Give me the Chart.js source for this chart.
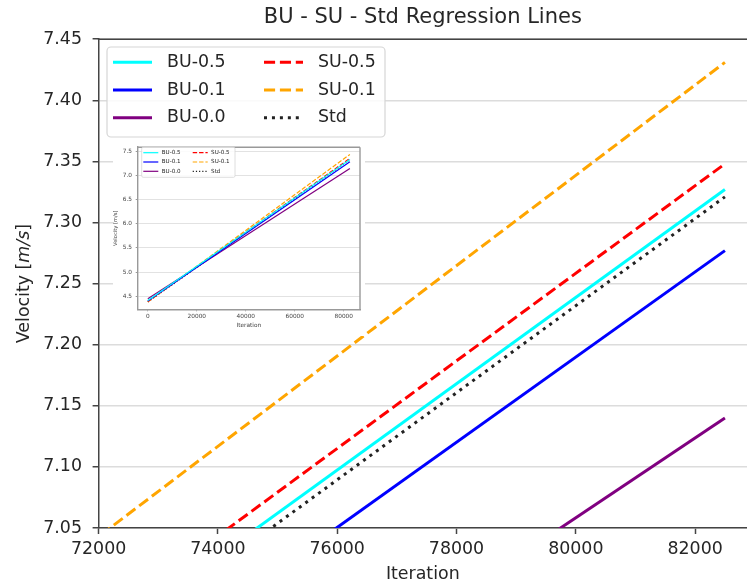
<!DOCTYPE html>
<html>
<head>
<meta charset="utf-8">
<title>BU - SU - Std Regression Lines</title>
<script src="https://cdn.jsdelivr.net/npm/chart.js@4.4.1/dist/chart.umd.min.js"></script>
<style>
  body { margin: 0; background: #fff; }
  #wrap { position: relative; width: 747px; height: 586px; overflow: hidden; }
  #main { position: absolute; left: 0; top: 0; }
  #inset { position: absolute; left: 113px; top: 140px; background: #fff; filter: blur(0.4px); }
</style>
</head>
<body>
<div id="wrap">
  <canvas id="main" width="747" height="586"></canvas>
  <canvas id="inset" width="252" height="196"></canvas>
</div>
<script>
// fitted lines, value at first and last iteration
var iterations = [0, 82500];
var seriesNames = ['BU-0.5', 'BU-0.1', 'BU-0.0', 'SU-0.5', 'SU-0.1', 'Std'];
var bu05 = [4.413, 7.327];
var bu01 = [4.402, 7.277];
var bu00 = [4.446, 7.140];
var su05 = [4.392, 7.348];
var su01 = [4.382, 7.431];
var stdFit = [4.382, 7.321];

var xTicks = [72000, 74000, 76000, 78000, 80000, 82000];
var yTicks = [7.05, 7.10, 7.15, 7.20, 7.25, 7.30, 7.35, 7.40, 7.45];
var insetXTicks = [0, 20000, 40000, 60000, 80000];
var insetYTicks = [4.5, 5.0, 5.5, 6.0, 6.5, 7.0, 7.5];

var FONT = '"DejaVu Sans", sans-serif';
var TEXT = '#262626';

// colour + line style per series ('solid' | 'dashed' | 'dotted')
var looks = [
  ['#00ffff', 'solid'],
  ['#0000ff', 'solid'],
  ['#800080', 'solid'],
  ['#ff0000', 'dashed'],
  ['#ffa500', 'dashed'],
  ['#222222', 'dotted']
];

function dashFor(kind, lw) {
  if (kind == 'dashed') return [3.7 * lw, 1.6 * lw];
  if (kind == 'dotted') return [1 * lw, 1.65 * lw];
  return [];
}

function makeSets(lw) {
  var all = [bu05, bu01, bu00, su05, su01, stdFit];
  return all.map(function (vals, i) {
    return {
      label: seriesNames[i],
      data: iterations.map(function (it, j) { return { x: it, y: vals[j] }; }),
      borderColor: looks[i][0],
      borderWidth: lw,
      borderDash: dashFor(looks[i][1], lw),
      pointRadius: 0,
      fill: false,
      clip: 0
    };
  });
}

// top/right spines, boxed two-column legend, mixed-font y label
var decor = {
  id: 'decor',
  afterDatasetsDraw: function (chart, args, o) {
    var ctx = chart.ctx, a = chart.chartArea;
    ctx.save();
    ctx.strokeStyle = o.spineColor;
    ctx.lineWidth = o.spineWidth;
    ctx.beginPath();
    ctx.moveTo(a.left - o.spineWidth / 2, a.top);
    ctx.lineTo(a.right, a.top);
    if (o.rightSpine) {
      ctx.moveTo(a.right, a.top);
      ctx.lineTo(a.right, a.bottom);
    }
    ctx.stroke();

    var b = o.box;
    ctx.beginPath();
    ctx.roundRect(b.x, b.y, b.w, b.h, b.r);
    ctx.fillStyle = 'rgba(255,255,255,0.85)';
    ctx.fill();
    ctx.strokeStyle = '#d6d6d6';
    ctx.lineWidth = b.lw;
    ctx.stroke();

    ctx.font = o.fontSize + 'px ' + FONT;
    ctx.textBaseline = 'middle';
    ctx.textAlign = 'left';
    chart.data.datasets.forEach(function (ds, i) {
      var x0 = o.cols[Math.floor(i / 3)];
      var y = o.rows[i % 3];
      ctx.beginPath();
      ctx.setLineDash(ds.borderDash);
      ctx.strokeStyle = ds.borderColor;
      ctx.lineWidth = ds.borderWidth;
      ctx.moveTo(x0, y);
      ctx.lineTo(x0 + o.handle, y);
      ctx.stroke();
      ctx.setLineDash([]);
      ctx.fillStyle = TEXT;
      ctx.fillText(ds.label, x0 + o.handle + o.gap, y);
    });

    if (o.yLabel) {
      var parts = [['Velocity [', ''], ['m/s', 'italic '], [']', '']];
      var widths = parts.map(function (p) {
        ctx.font = p[1] + o.yLabel.size + 'px ' + FONT;
        return ctx.measureText(p[0]).width;
      });
      var total = widths.reduce(function (s, w) { return s + w; }, 0);
      ctx.translate(o.yLabel.x, (a.top + a.bottom) / 2);
      ctx.rotate(-Math.PI / 2);
      var cx = -total / 2;
      parts.forEach(function (p, i) {
        ctx.font = p[1] + o.yLabel.size + 'px ' + FONT;
        ctx.fillText(p[0], cx, 0);
        cx += widths[i];
      });
    }
    ctx.restore();
  }
};

function fixTicks(list) {
  return function (scale) {
    scale.ticks = list.map(function (v) { return { value: v }; });
  };
}

var main = new Chart(document.getElementById('main'), {
  type: 'line',
  data: { datasets: makeSets(3) },
  options: {
    responsive: false,
    animation: false,
    events: [],
    layout: { padding: 0 },
    plugins: {
      legend: { display: false },
      tooltip: { enabled: false },
      title: {
        display: true,
        fullSize: false,
        text: 'BU - SU - Std Regression Lines',
        color: TEXT,
        font: { family: FONT, size: 21, weight: 'normal' },
        padding: { top: 5, bottom: 9 }
      },
      decor: {
        spineColor: '#444', spineWidth: 1.5, rightSpine: false,
        box: { x: 107, y: 47, w: 278, h: 90, r: 4, lw: 1.2 },
        cols: [113, 264], rows: [62.3, 90, 117.7],
        handle: 39, gap: 15, fontSize: 17.4,
        yLabel: { x: 24, size: 17.4 }
      }
    },
    scales: {
      x: {
        type: 'linear',
        min: 72000,
        max: 82870,
        afterBuildTicks: fixTicks(xTicks),
        afterFit: function (s) { s.height = 58; },
        ticks: {
          callback: function (v) { return String(v); },
          color: TEXT, font: { family: FONT, size: 17.4 },
          padding: 5.5, maxRotation: 0, autoSkip: false
        },
        grid: { drawOnChartArea: false, drawTicks: true, tickLength: 6, tickColor: '#444', tickWidth: 1.5 },
        border: { color: '#444', width: 1.5 },
        title: {
          display: true, text: 'Iteration', color: TEXT,
          font: { family: FONT, size: 17.4 }, padding: { top: 0, bottom: 1.5 }
        }
      },
      y: {
        type: 'linear',
        min: 7.05,
        max: 7.45,
        afterBuildTicks: fixTicks(yTicks),
        afterFit: function (s) { s.width = 98.6; },
        ticks: {
          callback: function (v) { return v.toFixed(2); },
          color: TEXT, font: { family: FONT, size: 17.4 }, padding: 10.6
        },
        grid: { color: '#dcdcdc', lineWidth: 1.5, tickLength: 6, tickColor: '#444', tickWidth: 1.5 },
        border: { color: '#444', width: 1.5 }
      }
    }
  },
  plugins: [decor]
});

// small overview of the full run
var inset = new Chart(document.getElementById('inset'), {
  type: 'line',
  data: { datasets: makeSets(1.2) },
  options: {
    responsive: false,
    animation: false,
    events: [],
    layout: { padding: { top: 4, right: 5, left: 0, bottom: 0 } },
    plugins: {
      legend: { display: false },
      tooltip: { enabled: false },
      decor: {
        spineColor: '#999', spineWidth: 1.4, rightSpine: true,
        box: { x: 28.7, y: 7.3, w: 93.3, h: 30, r: 1.5, lw: 0.8 },
        cols: [30.3, 79.7], rows: [12.7, 22, 31.3],
        handle: 15, gap: 3.4, fontSize: 5.6,
        yLabel: null
      }
    },
    scales: {
      x: {
        type: 'linear',
        min: -4125,
        max: 86625,
        afterBuildTicks: fixTicks(insetXTicks),
        afterFit: function (s) { s.height = 26.7; },
        ticks: {
          callback: function (v) { return String(v); },
          color: '#444', font: { family: FONT, size: 5.8 },
          padding: 1.8, maxRotation: 0, autoSkip: false
        },
        grid: { drawOnChartArea: false, drawTicks: true, tickLength: 2, tickColor: '#999' },
        border: { color: '#999', width: 1.4 },
        title: {
          display: true, text: 'Iteration', color: '#444',
          font: { family: FONT, size: 5.8 }, padding: { top: 0, bottom: 7.4 }
        }
      },
      y: {
        type: 'linear',
        min: 4.23,
        max: 7.58,
        afterBuildTicks: fixTicks(insetYTicks),
        afterFit: function (s) { s.width = 24.7; },
        ticks: {
          callback: function (v) { return v.toFixed(1); },
          color: '#444', font: { family: FONT, size: 5.8 }, padding: 3.7
        },
        grid: { color: '#e2e2e2', lineWidth: 1, tickLength: 2, tickColor: '#999' },
        border: { color: '#999', width: 1.4 },
        title: {
          display: true, text: 'Velocity [m/s]', color: '#444',
          font: { family: FONT, size: 5.2 }, padding: { top: 0, bottom: 0 }
        }
      }
    }
  },
  plugins: [decor]
});
</script>
</body>
</html>
